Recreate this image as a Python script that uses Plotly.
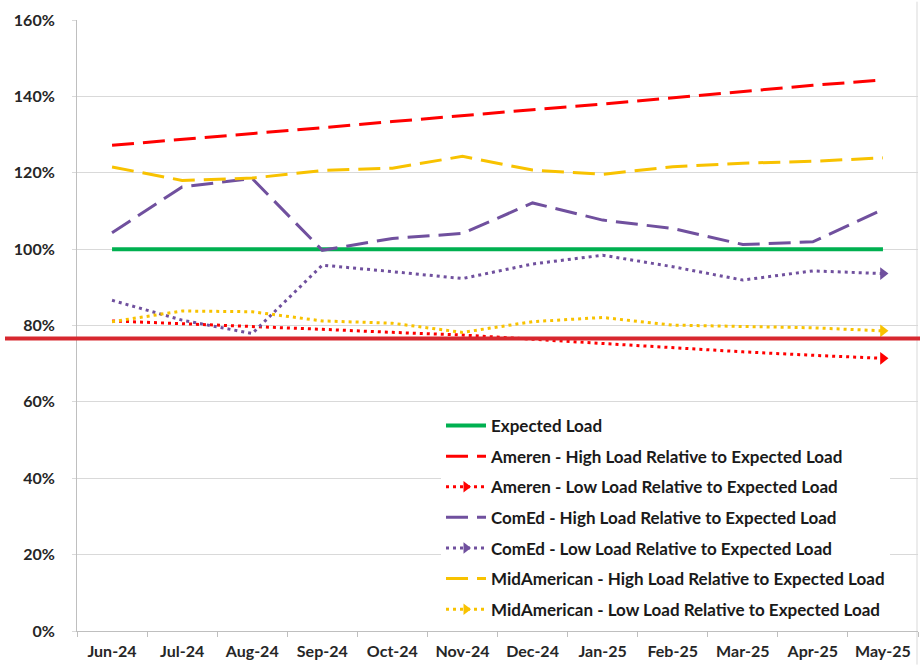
import plotly.graph_objects as go

months = ["Jun-24", "Jul-24", "Aug-24", "Sep-24", "Oct-24", "Nov-24",
          "Dec-24", "Jan-25", "Feb-25", "Mar-25", "Apr-25", "May-25"]

expected_load = [1.00] * 12
ameren_high = [1.272, 1.287, 1.302, 1.318, 1.334, 1.350, 1.365, 1.380, 1.396, 1.412, 1.429, 1.443]
ameren_low = [0.812, 0.805, 0.798, 0.790, 0.782, 0.775, 0.764, 0.753, 0.742, 0.731, 0.722, 0.714]
comed_high = [1.043, 1.163, 1.185, 0.997, 1.028, 1.041, 1.121, 1.076, 1.054, 1.012, 1.019, 1.104]
comed_low = [0.866, 0.814, 0.779, 0.958, 0.941, 0.923, 0.961, 0.984, 0.954, 0.919, 0.943, 0.936]
midam_high = [1.215, 1.180, 1.186, 1.206, 1.212, 1.243, 1.207, 1.196, 1.216, 1.225, 1.230, 1.239]
midam_low = [0.810, 0.838, 0.836, 0.812, 0.806, 0.782, 0.810, 0.821, 0.801, 0.797, 0.794, 0.786]

names = [
    "Expected Load",
    "Ameren - High Load Relative to Expected Load",
    "Ameren - Low Load Relative to Expected Load",
    "ComEd - High Load Relative to Expected Load",
    "ComEd - Low Load Relative to Expected Load",
    "MidAmerican - High Load Relative to Expected Load",
    "MidAmerican - Low Load Relative to Expected Load",
]
series = [expected_load, ameren_high, ameren_low, comed_high, comed_low, midam_high, midam_low]

GREEN = "#00B050"
RED = "#FF0000"
PURPLE = "#70509E"
YELLOW = "#F8C200"
colors = [GREEN, RED, RED, PURPLE, PURPLE, YELLOW, YELLOW]
DASH = "22px,9px"
DOT = "3px,4px"
dashes = ["solid", DASH, DOT, DASH, DOT, DASH, DOT]
widths = [4, 3, 3, 3, 3, 3, 3]
arrows = [False, False, True, False, True, False, True]

fig = go.Figure()

for name, vals, c, d, w, a in zip(names, series, colors, dashes, widths, arrows):
    fig.add_trace(go.Scatter(
        x=months, y=vals, mode="lines", name=name, showlegend=False,
        line=dict(color=c, dash=d, width=w), hoverinfo="skip"))
    if a:
        fig.add_trace(go.Scatter(
            x=months[-1:], y=vals[-1:], mode="markers", showlegend=False,
            marker=dict(symbol="triangle-right", size=11, color=c), hoverinfo="skip"))

# legend entries
for i, (name, c, d, w, a) in enumerate(zip(names, colors, dashes, widths, arrows)):
    fig.add_trace(go.Scatter(
        x=[None], y=[None], mode="lines+markers" if a else "lines", name=name,
        legendgroup=f"g{i}",
        line=dict(color=c, dash=d, width=w),
        marker=dict(symbol="triangle-right", size=10, color=c)))

fig.update_layout(
    width=920, height=665,
    margin=dict(l=77, r=2, t=20, b=34),
    paper_bgcolor="white", plot_bgcolor="white",
    font=dict(family="Lato, Open Sans, sans-serif", color="#262626", size=13),
    showlegend=True,
    legend=dict(
        x=(441 - 77) / 841, y=(631 - 408) / 611, xanchor="left", yanchor="top",
        bgcolor="white", traceorder="grouped", tracegroupgap=5.5,
        font=dict(size=17, weight="bold", color="#1a1a1a"),
        itemwidth=40,
    ),
    xaxis=dict(
        type="category", range=[-0.5, 11.5],
        showline=True, linecolor="#BFBFBF", linewidth=1,
        ticks="outside", tickson="boundaries", ticklen=5, tickcolor="#BFBFBF",
        showgrid=False, ticklabelstandoff=6,
        tickfont=dict(size=16, weight="bold", color="#262626"),
    ),
    yaxis=dict(
        range=[0, 1.6], dtick=0.2, tickformat=".0%",
        showline=True, linecolor="#BFBFBF", linewidth=1,
        gridcolor="#D9D9D9", gridwidth=1,
        ticks="outside", ticklen=4, tickcolor="#D9D9D9",
        ticklabelstandoff=14, zeroline=False,
        tickfont=dict(size=16, weight="bold", color="#262626"),
    ),
    shapes=[
        dict(type="line", xref="paper", yref="y",
             x0=(5 - 77) / 841, x1=(920 - 77) / 841, y0=0.766, y1=0.766,
             line=dict(color="#D7282F", width=4), layer="above"),
        dict(type="line", xref="paper", yref="paper",
             x0=(917 - 77) / 841, x1=(917 - 77) / 841, y0=-0.055, y1=1.03,
             line=dict(color="#D9D9D9", width=1), layer="below"),
    ],
)

fig.write_html("out.html", config={"displayModeBar": False},
               post_script="document.body.style.margin='0px';")
